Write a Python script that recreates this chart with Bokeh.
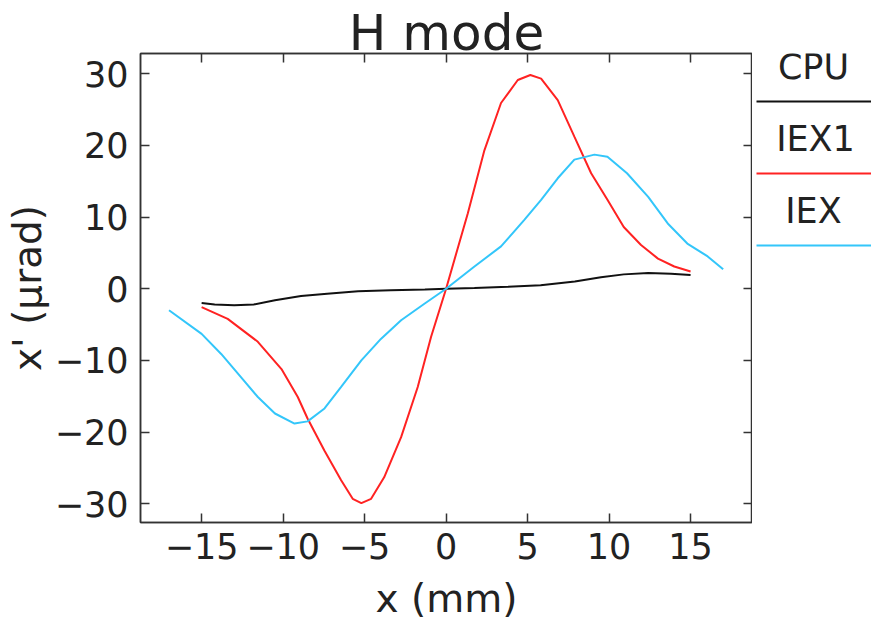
from bokeh.plotting import figure
from bokeh.models import Range1d, LinearAxis, FixedTicker, CustomJSTickFormatter, Title
from bokeh.layouts import row
from bokeh.embed import file_html
from bokeh.resources import INLINE
from bokeh.core.properties import value

FONT = "DejaVu Sans"

# ---- data ----
series_names = ["CPU", "IEX1", "IEX"]
series_colors = ["#111111", "#ff2222", "#33c6fa"]

cpu_x = [-15, -14.2, -13.0, -11.8, -10.5, -8.9, -7.3, -5.4, -3.4, -1.3, 0,
         1.74, 3.8, 5.8, 7.9, 9.5, 10.9, 12.4, 13.8, 15]
cpu_y = [-2.0, -2.2, -2.3, -2.2, -1.6, -1.0, -0.7, -0.37, -0.23, -0.1, 0,
         0.1, 0.27, 0.5, 1.0, 1.6, 2.0, 2.2, 2.1, 1.9]

iex1_x = [-15, -13.4, -11.55, -10.1, -9.1, -8.5, -7.46, -6.44, -5.73, -5.2, -4.6,
          -3.8, -2.76, -1.74, -0.92, 0, 1.33, 2.35, 3.37, 4.4, 5.17, 5.83, 6.85,
          7.87, 8.9, 9.9, 10.9, 11.96, 13.0, 14.0, 15]
iex1_y = [-2.56, -4.2, -7.4, -11.2, -15.1, -18.1, -22.6, -26.7, -29.3, -29.9, -29.3,
          -26.3, -20.7, -13.7, -6.7, 0, 10.5, 19.3, 25.9, 29.1, 29.8, 29.3, 26.3,
          21.2, 16.1, 12.4, 8.6, 6.1, 4.2, 3.1, 2.4]

iex_x = [-17.0, -15.0, -13.8, -12.6, -11.55, -10.5, -9.3, -8.5, -7.46, -6.44, -5.2,
         -4.0, -2.76, -1.33, 0, 1.74, 3.37, 4.8, 5.83, 6.85, 7.87, 9.1, 9.9, 11.1,
         12.4, 13.6, 14.8, 16.05, 17.0]
iex_y = [-3.0, -6.3, -9.1, -12.3, -15.1, -17.4, -18.8, -18.5, -16.7, -13.7, -10.0,
         -7.0, -4.4, -2.1, 0, 3.1, 5.9, 9.6, 12.4, 15.4, 18.0, 18.7, 18.4, 16.1,
         12.8, 9.1, 6.3, 4.5, 2.7]

x_ticks = [-15, -10, -5, 0, 5, 10, 15]
y_ticks = [-30, -20, -10, 0, 10, 20, 30]

title_text = "H mode"
x_label = "x (mm)"
y_label = "x' (\u03bcrad)"

AX = "#333333"
TXT = "#222222"

p = figure(width=752, height=626,
           x_range=Range1d(-18.75, 18.8), y_range=Range1d(-32.6, 32.8),
           output_backend="svg", toolbar_location=None,
           min_border_left=140, min_border_top=53, min_border_bottom=104,
           min_border_right=0)
p.grid.visible = False
p.outline_line_color = AX
p.outline_line_width = 1.5
p.background_fill_color = "white"
p.border_fill_color = "white"

p.title = Title(text=title_text, align="center", text_font=FONT,
                text_font_size="50px", text_font_style="normal",
                text_color=TXT, standoff=-16)


def style_axis(ax):
    ax.major_tick_in = 9
    ax.major_tick_out = 0
    ax.minor_tick_line_color = None
    ax.axis_line_color = AX
    ax.axis_line_width = 1.5
    ax.major_tick_line_color = AX
    ax.major_tick_line_width = 1.5
    ax.major_label_text_font = FONT
    ax.major_label_text_font_size = "35px"
    ax.major_label_text_color = TXT
    ax.axis_label_text_font = FONT
    ax.axis_label_text_font_size = "39px"
    ax.axis_label_text_font_style = "normal"
    ax.axis_label_text_color = TXT


xa = p.xaxis[0]
style_axis(xa)
xa.ticker = FixedTicker(ticks=x_ticks)
xa.major_label_standoff = 10
xa.axis_label = x_label
xa.axis_label_standoff = 14

ya = p.yaxis[0]
style_axis(ya)
ya.ticker = FixedTicker(ticks=y_ticks)
ya.major_label_standoff = 12
ya.axis_label = y_label
ya.axis_label_standoff = 2

blank = "return ''"
top = LinearAxis(ticker=FixedTicker(ticks=x_ticks), formatter=CustomJSTickFormatter(code=blank))
style_axis(top)
top.major_label_standoff = 0
top.major_label_text_font_size = "0px"
p.add_layout(top, "above")

right = LinearAxis(ticker=FixedTicker(ticks=y_ticks), formatter=CustomJSTickFormatter(code=blank))
style_axis(right)
right.major_label_standoff = 0
right.major_label_text_font_size = "0px"
p.add_layout(right, "right")

for xs, ys, c in [(cpu_x, cpu_y, series_colors[0]),
                  (iex1_x, iex1_y, series_colors[1]),
                  (iex_x, iex_y, series_colors[2])]:
    p.line(xs, ys, line_color=c, line_width=2)

# ---- legend panel (its frame is aligned with the main frame: 53..522 px) ----
leg = figure(width=119, height=626, x_range=Range1d(0, 119), y_range=Range1d(522, 53),
             output_backend="svg", toolbar_location=None, min_border=0,
             x_axis_type=None, y_axis_type=None)
leg.grid.visible = False
leg.outline_line_color = None
leg.background_fill_color = "white"
leg.border_fill_color = "white"

leg.text(x=[61, 63, 61], y=[66, 138, 210], text=series_names,
         text_align="center", text_baseline="alphabetic",
         text_font=value(FONT), text_font_size="35px", text_color=TXT)
leg.segment(x0=[4, 4, 4], y0=[101, 173, 245], x1=[119, 119, 119], y1=[101, 173, 245],
            line_color=series_colors, line_width=2)

layout = row(p, leg)
open("out.html", "w").write(file_html(layout, INLINE))
